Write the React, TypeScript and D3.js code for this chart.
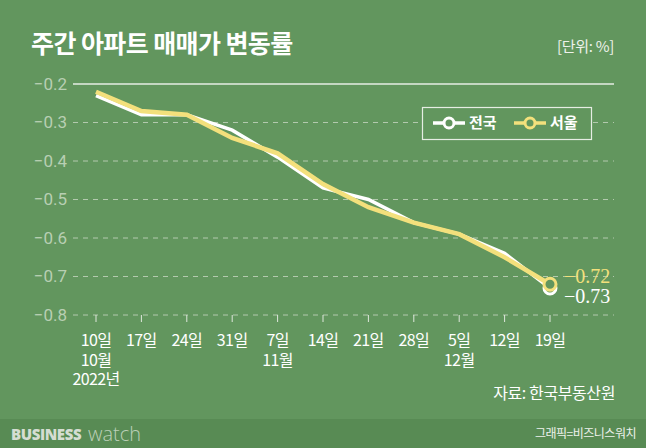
import React, { useEffect, useRef } from "react";
import * as d3 from "d3";

// 주간 아파트 매매가 변동률 (2022년 10월~12월)
const weeks = ["10일", "17일", "24일", "31일", "7일", "14일", "21일", "28일", "5일", "12일", "19일"];
const months = ["10월", "", "", "", "11월", "", "", "", "12월", "", ""];
const national = [-0.23, -0.28, -0.28, -0.32, -0.39, -0.47, -0.5, -0.56, -0.59, -0.64, -0.73];
const seoul = [-0.22, -0.27, -0.28, -0.34, -0.38, -0.46, -0.52, -0.56, -0.59, -0.65, -0.72];
const yTicks = [-0.2, -0.3, -0.4, -0.5, -0.6, -0.7, -0.8];

const W = 646;
const H = 448;
const BG = "#62965e";
const FOOT = "#588b54";
const YELLOW = "#f3e07c";
const GRID = "#b3c9ae";
const FONT = "'Noto Sans CJK KR', 'Noto Sans', sans-serif";

const App: React.FC = () => {
  const svgRef = useRef<SVGSVGElement>(null);

  useEffect(() => {
    if (!svgRef.current) return;
    const svg = d3.select(svgRef.current);
    svg.selectAll("*").remove();

    const x = d3.scalePoint<number>().domain(d3.range(weeks.length)).range([96, 550]);
    const y = d3.scaleLinear().domain([-0.8, -0.2]).range([315, 84]);

    // 배경
    svg.append("rect").attr("width", W).attr("height", H).attr("fill", BG);
    svg.append("rect").attr("y", 419).attr("width", W).attr("height", H - 419).attr("fill", FOOT);

    // 제목
    svg
      .append("text")
      .attr("x", 31)
      .attr("y", 53)
      .style("font-family", FONT)
      .style("font-size", "25px")
      .style("font-weight", "bold")
      .style("letter-spacing", "-0.6px")
      .style("fill", "#ffffff")
      .text("주간 아파트 매매가 변동률");

    svg
      .append("text")
      .attr("x", 614)
      .attr("y", 52)
      .attr("text-anchor", "end")
      .style("font-family", FONT)
      .style("font-size", "15px")
      .style("letter-spacing", "-0.3px")
      .style("fill", "#eef2ec")
      .text("[단위: %]");

    // 가로 그리드
    const grid = svg.append("g");
    grid
      .selectAll("line")
      .data(yTicks)
      .enter()
      .append("line")
      .attr("x1", 73)
      .attr("x2", 614)
      .attr("y1", (d) => y(d))
      .attr("y2", (d) => y(d))
      .attr("stroke", (d) => (d === -0.2 ? "#e6ede4" : GRID))
      .attr("stroke-width", (d) => (d === -0.2 ? 1.5 : 1))
      .attr("stroke-dasharray", (d) => (d === -0.2 ? null : "5,5"));

    grid
      .selectAll("text")
      .data(yTicks)
      .enter()
      .append("text")
      .attr("x", 67)
      .attr("y", (d) => y(d))
      .attr("dy", "0.35em")
      .attr("text-anchor", "end")
      .style("font-family", "Roboto, sans-serif")
      .style("font-size", "17px")
      .style("fill", "#b8cfb3")
      .text((d) => d3.format(".1f")(d).replace("-", "−"));

    // x축 눈금
    const xAxis = svg.append("g");
    xAxis
      .selectAll("line")
      .data(weeks)
      .enter()
      .append("line")
      .attr("x1", (_, i) => x(i)!)
      .attr("x2", (_, i) => x(i)!)
      .attr("y1", 315)
      .attr("y2", 322)
      .attr("stroke", "#dfe8dc")
      .attr("stroke-width", 1);

    const labelStyle = (sel: d3.Selection<SVGTextElement, any, any, any>) =>
      sel
        .attr("text-anchor", "middle")
        .style("font-family", FONT)
        .style("font-size", "16px")
        .style("letter-spacing", "-0.6px")
        .style("fill", "#ffffff");

    xAxis
      .selectAll("text.week")
      .data(weeks)
      .enter()
      .append("text")
      .attr("class", "week")
      .attr("x", (_, i) => x(i)!)
      .attr("y", 346)
      .call(labelStyle)
      .text((d) => d);

    xAxis
      .selectAll("text.month")
      .data(months)
      .enter()
      .append("text")
      .attr("class", "month")
      .attr("x", (_, i) => x(i)!)
      .attr("y", 366)
      .call(labelStyle)
      .text((d) => d);

    xAxis
      .append("text")
      .attr("x", x(0)!)
      .attr("y", 385)
      .call(labelStyle)
      .text("2022년");

    // 선
    const line = d3
      .line<number>()
      .x((_, i) => x(i)!)
      .y((d) => y(d));

    svg
      .append("path")
      .datum(national)
      .attr("d", line)
      .attr("fill", "none")
      .attr("stroke", "#ffffff")
      .attr("stroke-width", 3.5);

    svg
      .append("path")
      .datum(seoul)
      .attr("d", line)
      .attr("fill", "none")
      .attr("stroke", YELLOW)
      .attr("stroke-width", 4.5);

    // 끝점 마커
    const last = weeks.length - 1;
    svg
      .append("circle")
      .attr("cx", x(last)!)
      .attr("cy", y(national[last]))
      .attr("r", 6)
      .attr("fill", BG)
      .attr("stroke", "#ffffff")
      .attr("stroke-width", 3);
    svg
      .append("circle")
      .attr("cx", x(last)!)
      .attr("cy", y(seoul[last]))
      .attr("r", 6)
      .attr("fill", BG)
      .attr("stroke", YELLOW)
      .attr("stroke-width", 3);

    // 끝값 라벨
    svg
      .append("text")
      .attr("x", 564)
      .attr("y", 283)
      .style("font-family", "'Liberation Serif', serif")
      .style("font-size", "20px")
      .style("fill", YELLOW)
      .text(d3.format(".2f")(seoul[last]).replace("-", "−"));
    svg
      .append("text")
      .attr("x", 564)
      .attr("y", 303)
      .style("font-family", "'Liberation Serif', serif")
      .style("font-size", "20px")
      .style("fill", "#ffffff")
      .text(d3.format(".2f")(national[last]).replace("-", "−"));

    // 범례
    const legend = svg.append("g");
    legend
      .append("rect")
      .attr("x", 422.5)
      .attr("y", 107.5)
      .attr("width", 169)
      .attr("height", 32)
      .attr("fill", BG)
      .attr("stroke", "#e6ede4")
      .attr("stroke-width", 1.2);

    const items = [
      { label: "전국", color: "#ffffff", x: 433 },
      { label: "서울", color: YELLOW, x: 514 },
    ];
    items.forEach((it) => {
      legend
        .append("line")
        .attr("x1", it.x)
        .attr("x2", it.x + 32)
        .attr("y1", 123)
        .attr("y2", 123)
        .attr("stroke", it.color)
        .attr("stroke-width", 3.5);
      legend
        .append("circle")
        .attr("cx", it.x + 16)
        .attr("cy", 123)
        .attr("r", 5)
        .attr("fill", BG)
        .attr("stroke", it.color)
        .attr("stroke-width", 3);
      legend
        .append("text")
        .attr("x", it.x + 36)
        .attr("y", 123)
        .attr("dy", "0.35em")
        .style("font-family", FONT)
        .style("font-size", "15px")
        .style("font-weight", "bold")
        .style("fill", "#ffffff")
        .text(it.label);
    });

    // 출처
    svg
      .append("text")
      .attr("x", 615)
      .attr("y", 399)
      .attr("text-anchor", "end")
      .style("font-family", FONT)
      .style("font-size", "16px")
      .style("letter-spacing", "-0.4px")
      .style("fill", "#ffffff")
      .text("자료: 한국부동산원");

    // 하단 로고
    svg
      .append("text")
      .attr("x", 11)
      .attr("y", 440)
      .style("font-family", "'Open Sans', sans-serif")
      .style("font-size", "15px")
      .style("font-weight", "800")
      .style("letter-spacing", "-0.4px")
      .style("fill", "#d5ddd2")
      .text("BUSINESS");
    svg
      .append("text")
      .attr("x", 88)
      .attr("y", 441)
      .style("font-family", "'Open Sans', sans-serif")
      .style("font-size", "20px")
      .style("font-weight", "300")
      .style("fill", "#bcd0b8")
      .text("watch");
    svg
      .append("text")
      .attr("x", 636)
      .attr("y", 438)
      .attr("text-anchor", "end")
      .style("font-family", FONT)
      .style("font-size", "12px")
      .style("letter-spacing", "-0.5px")
      .style("fill", "#eef2ec")
      .text("그래픽=비즈니스워치");
  }, []);

  return (
    <svg
      ref={svgRef}
      width={W}
      height={H}
      style={{ position: "absolute", left: 0, top: 0, display: "block" }}
    />
  );
};

export default App;
